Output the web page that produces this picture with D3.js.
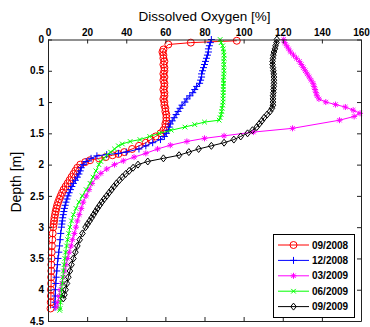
<!DOCTYPE html>
<html><head><meta charset="utf-8">
<script src="https://cdn.jsdelivr.net/npm/d3@7"></script>
<style>
html,body{margin:0;padding:0;background:#fff;}
svg{display:block;font-family:"Liberation Sans",Arial,sans-serif;}
</style></head>
<body><svg id="c" width="370" height="327"></svg>
<script>
// ---- data: [depth (m), dissolved oxygen (%)] ----
const seriesNames = ["09/2008","12/2008","03/2009","06/2009","09/2009"];
const s0908 = [[0.02,96.5],[0.05,73],[0.08,61.5],[0.16,59],[0.2,58.5],[0.25,59],[0.3,59],[0.35,59.5],[0.4,59],[0.45,59.5],[0.5,59.5],[0.55,59],[0.6,59.5],[0.65,59],[0.7,59.5],[0.75,59.5],[0.8,59],[0.85,59.5],[0.9,59.5],[0.95,59],[1.0,59.5],[1.05,59.5],[1.1,60],[1.15,60],[1.2,60.5],[1.25,60.5],[1.3,60.5],[1.35,60],[1.4,60],[1.45,59],[1.5,57.5],[1.55,55],[1.6,52.5],[1.65,50],[1.7,46.5],[1.75,43],[1.8,39],[1.83,36],[1.85,33],[1.88,29.5],[1.9,26],[1.93,21.5],[1.96,19],[2.0,16.5],[2.05,15],[2.1,14],[2.15,13],[2.2,12],[2.25,11],[2.3,10],[2.35,9],[2.4,8],[2.45,7.2],[2.5,6.5],[2.55,5.8],[2.6,5.2],[2.65,4.7],[2.7,4.3],[2.75,3.9],[2.8,3.6],[2.85,3.3],[2.9,3.1],[2.95,2.9],[3.0,2.7],[3.1,2.4],[3.2,2.2],[3.3,2],[3.4,1.9],[3.5,1.8],[3.6,1.7],[3.7,1.7],[3.8,1.6],[3.9,1.6],[4.0,1.5],[4.1,1.5],[4.2,1.4],[4.3,1.3]];
const s1208 = [[0.0,83.5],[0.05,83],[0.1,82.5],[0.15,82],[0.2,82],[0.25,81.5],[0.3,81],[0.35,80.5],[0.4,80],[0.45,79.5],[0.5,79],[0.55,78.5],[0.6,78.5],[0.65,78],[0.7,77.5],[0.75,76],[0.8,75],[0.85,74],[0.9,72.5],[0.95,71],[1.0,70],[1.05,68.5],[1.1,67.5],[1.15,66.5],[1.2,65.5],[1.25,64.5],[1.3,63.5],[1.35,62.5],[1.4,62],[1.45,61.5],[1.5,60.5],[1.55,59.5],[1.6,57.5],[1.65,53.5],[1.7,50],[1.75,46.5],[1.8,40],[1.82,36],[1.84,30],[1.86,25],[1.9,22],[1.95,19.5],[2.0,18],[2.05,17],[2.1,16.5],[2.15,15.8],[2.2,15],[2.25,14],[2.3,13],[2.35,12.2],[2.4,11.5],[2.45,10.8],[2.5,10.2],[2.55,9.7],[2.6,9.2],[2.65,8.8],[2.7,8.4],[2.75,8.1],[2.8,7.8],[2.85,7.5],[2.9,7.3],[2.95,7.1],[3.0,6.9],[3.1,6.5],[3.2,6.2],[3.3,5.9],[3.4,5.5],[3.5,5.1],[3.6,4.8],[3.7,4.5],[3.8,4.2],[3.9,4],[4.0,3.8],[4.1,3.7],[4.2,3.6],[4.28,3.6]];
const s0309 = [[0,120.5],[0.05,121],[0.1,122],[0.15,123],[0.2,124],[0.25,125.5],[0.3,127],[0.35,128.5],[0.4,129.5],[0.45,130.5],[0.5,131.5],[0.55,132.5],[0.6,133.5],[0.65,134.5],[0.7,135.5],[0.75,136],[0.8,136.5],[0.85,137],[0.9,137.5],[0.95,138.5],[1.0,142],[1.04,147],[1.08,152],[1.13,156],[1.18,159.5],[1.23,156.5],[1.29,149],[1.42,125],[1.48,105],[1.54,90],[1.58,80],[1.63,71],[1.69,62.5],[1.75,56],[1.82,50],[1.88,44],[1.94,38.5],[2.0,34],[2.07,30],[2.14,27],[2.2,25],[2.3,22.5],[2.4,21],[2.5,19.5],[2.6,18],[2.7,17],[2.8,16],[2.9,15],[3.0,14.3],[3.1,13.5],[3.2,12.5],[3.3,11.8],[3.4,10.8],[3.5,10],[3.6,9.2],[3.7,8.5],[3.8,7.8],[3.9,7],[4.0,6.3],[4.1,5.7],[4.2,5],[4.28,4.5]];
const s0609 = [[0.0,88],[0.05,88.5],[0.1,89.3],[0.15,89.6],[0.2,89.8],[0.25,90],[0.3,90],[0.35,89.8],[0.4,90],[0.45,89.8],[0.5,90],[0.55,89.8],[0.6,89.8],[0.65,89.6],[0.7,89.8],[0.75,89.6],[0.8,89.6],[0.85,89.6],[0.9,89.5],[0.95,89.5],[1.0,89.5],[1.05,89.3],[1.1,89],[1.15,88.8],[1.2,88.5],[1.25,88],[1.29,87.5],[1.32,80],[1.36,75],[1.4,70],[1.45,63],[1.5,57],[1.55,52],[1.6,47],[1.63,42],[1.67,38],[1.7,36],[1.75,34],[1.8,32],[1.85,30],[1.9,28.5],[1.95,27],[2.0,26],[2.1,24.5],[2.2,23],[2.3,21.5],[2.4,19.5],[2.5,17.5],[2.6,15.8],[2.7,14.3],[2.8,13],[2.9,12],[3.0,11.2],[3.1,10.6],[3.2,10],[3.3,9.5],[3.4,9],[3.5,8.6],[3.6,8.2],[3.7,7.9],[3.8,7.6],[3.9,7.3],[4.0,7],[4.1,6.7],[4.2,6.4],[4.3,6.2],[4.33,6]];
const s0909 = [[0.0,117],[0.05,116.8],[0.1,116.3],[0.15,116],[0.2,115.5],[0.25,115.2],[0.3,115],[0.35,114.8],[0.4,114.8],[0.45,115],[0.5,115.2],[0.55,115.4],[0.6,115.5],[0.65,115.5],[0.7,115.5],[0.75,115.4],[0.8,115.3],[0.85,115.2],[0.9,115],[0.95,115],[1.0,115],[1.05,115],[1.1,114.5],[1.15,113.5],[1.2,112],[1.25,110.5],[1.3,109.3],[1.35,108],[1.4,106.7],[1.45,104.5],[1.5,102],[1.55,98.5],[1.6,95],[1.65,90],[1.7,83.5],[1.75,77],[1.8,72],[1.85,67],[1.9,59],[1.95,51],[2.0,46],[2.05,43.5],[2.1,41.5],[2.15,39.7],[2.2,38],[2.25,36.5],[2.3,35],[2.35,33.7],[2.4,32.5],[2.45,31.2],[2.5,30],[2.55,28.7],[2.6,27.5],[2.65,26.4],[2.7,25.3],[2.75,24.3],[2.8,23.3],[2.85,22.3],[2.9,21.3],[2.95,20.2],[3.0,19.2],[3.1,17.6],[3.2,16.2],[3.3,15],[3.4,14],[3.5,13],[3.6,12],[3.7,11.2],[3.8,10.4],[3.9,9.7],[4.0,9],[4.08,8.4],[4.14,7.8]];
const xTicks = [0,20,40,60,80,100,120,140,160];
const yTicks = [0,0.5,1,1.5,2,2.5,3,3.5,4,4.5];

// ---- styles ----
const colors = ["#ff0000","#0000ff","#ff00ff","#00ff00","#000000"];
const markers = [
  "M3.5,0A3.5,3.5 0 1,1 -3.5,0A3.5,3.5 0 1,1 3.5,0Z",
  "M-3.5,0H3.5M0,-3.5V3.5",
  "M-3,0H3M0,-3V3M-2.2,-2.2L2.2,2.2M-2.2,2.2L2.2,-2.2",
  "M-2.3,-2.3L2.3,2.3M-2.3,2.3L2.3,-2.3",
  "M0,-3.5L2.8,0L0,3.5L-2.8,0Z"
];
const allSeries = [s0908,s1208,s0309,s0609,s0909];

const svg = d3.select("#c");
const L=48, R=361, T=39.5, B=321;
const x = d3.scaleLinear().domain([0,160]).range([L,R]);
const y = d3.scaleLinear().domain([0,4.5]).range([T,B]);

// series
const line = d3.line().x(d=>x(d[1])).y(d=>y(d[0]));
allSeries.forEach((s,i)=>{
  const g = svg.append("g");
  g.append("path").attr("d",line(s)).attr("fill","none").attr("stroke",colors[i]).attr("stroke-width",1);
  g.selectAll("path.m").data(s).enter().append("path").attr("class","m")
    .attr("d",markers[i]).attr("transform",d=>`translate(${x(d[1])},${y(d[0])})`)
    .attr("fill","none").attr("stroke",colors[i]).attr("stroke-width",1);
});

// axes
const axStyle = g=>{
  g.selectAll(".domain").attr("stroke","#222");
  g.selectAll(".tick line").attr("stroke","#222");
  g.selectAll("text").attr("font-size","10px").attr("font-weight","bold").attr("fill","#000")
    .attr("font-family","'Liberation Sans',Arial,sans-serif");
};
svg.append("g").attr("transform",`translate(0,${T})`)
  .call(d3.axisTop(x).tickValues(xTicks).tickSizeInner(-4).tickSizeOuter(0).tickPadding(4)).call(axStyle);
svg.append("g").attr("transform",`translate(0,${B})`)
  .call(d3.axisBottom(x).tickValues(xTicks).tickSizeInner(-4).tickSizeOuter(0).tickFormat("")).call(axStyle);
svg.append("g").attr("transform",`translate(${L},0)`)
  .call(d3.axisLeft(y).tickValues(yTicks).tickSizeInner(-4).tickSizeOuter(0).tickPadding(4).tickFormat(d3.format("~g"))).call(axStyle);
svg.append("g").attr("transform",`translate(${R},0)`)
  .call(d3.axisRight(y).tickValues(yTicks).tickSizeInner(-4).tickSizeOuter(0).tickFormat("")).call(axStyle);

// titles
svg.append("text").attr("x",(L+R)/2).attr("y",21).attr("text-anchor","middle")
  .attr("font-size","13.5px").text("Dissolved Oxygen [%]");
svg.append("text").attr("transform",`translate(21,${(T+B)/2+2}) rotate(-90)`).attr("text-anchor","middle")
  .attr("font-size","14px").text("Depth [m]");

// legend
const lg = svg.append("g");
lg.append("rect").attr("x",273.5).attr("y",234.5).attr("width",81).attr("height",83)
  .attr("fill","#fff").attr("stroke","#000").attr("stroke-width",1);
seriesNames.forEach((n,i)=>{
  const yy = 245 + i*15.4;
  lg.append("line").attr("x1",278).attr("x2",309).attr("y1",yy).attr("y2",yy)
    .attr("stroke",colors[i]).attr("stroke-width",1);
  lg.append("path").attr("d",markers[i]).attr("transform",`translate(293.5,${yy})`)
    .attr("fill","none").attr("stroke",colors[i]);
  lg.append("text").attr("x",312).attr("y",yy).attr("dy","0.35em")
    .attr("font-size","10px").attr("font-weight","bold").text(n);
});
</script></body></html>
